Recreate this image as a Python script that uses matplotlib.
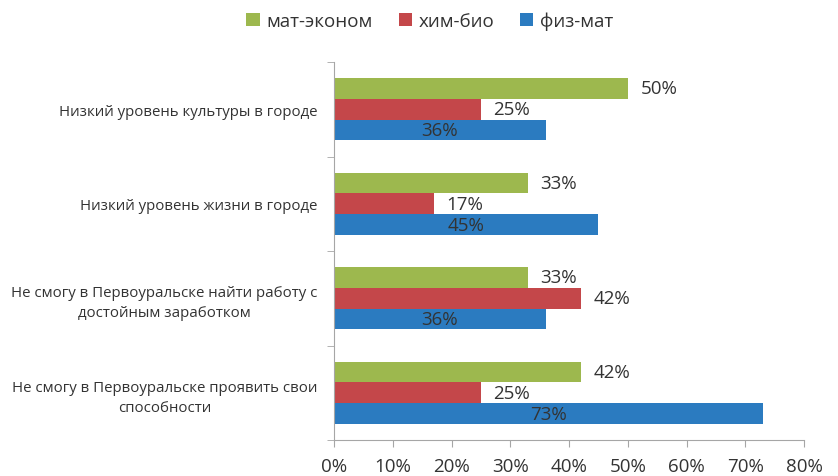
import matplotlib
matplotlib.use("Agg")
import matplotlib.pyplot as plt
from matplotlib.patches import Patch

plt.rcParams['font.family'] = ['Open Sans', 'DejaVu Sans']

categories = [
    "Низкий уровень культуры в городе",
    "Низкий уровень жизни в городе",
    "Не смогу в Первоуральске найти работу с\nдостойным заработком",
    "Не смогу в Первоуральске проявить свои\nспособности",
]
series_names = ["мат-эконом", "хим-био", "физ-мат"]
mat_econom = [50, 33, 33, 42]
him_bio = [25, 17, 42, 25]
fiz_mat = [36, 45, 36, 73]
x_ticks = [0, 10, 20, 30, 40, 50, 60, 70, 80]

colors = ["#9DB84E", "#C4474A", "#2B7BC0"]
text_color = "#333333"
spine_color = "#A6A6A6"

fig = plt.figure(figsize=(8.38, 4.77), dpi=100)
ax = fig.add_axes([334 / 838, 36 / 477, 470 / 838, 378 / 477])

bh = 0.22
offsets = [-bh, 0, bh]
series = [mat_econom, him_bio, fiz_mat]
for s, (vals, off, col) in enumerate(zip(series, offsets, colors)):
    ys = [i + off for i in range(len(categories))]
    ax.barh(ys, vals, height=bh, color=col, edgecolor='none')
    for y, v in zip(ys, vals):
        if s < 2:
            ax.annotate(f"{v}%", (v, y), xytext=(9, 0), textcoords='offset points',
                        ha='left', va='center', fontsize=13.5, color=text_color)
        else:
            ax.text(v / 2, y, f"{v}%", ha='center', va='center', fontsize=13.5,
                    color=text_color)

ax.set_ylim(len(categories) - 0.5, -0.5)
ax.set_xlim(0, 80)
ax.set_xticks(x_ticks)
ax.set_xticklabels([f"{t}%" for t in x_ticks], fontsize=13.5, color=text_color)

ax.set_yticks(range(len(categories)))
ax.set_yticklabels(categories, fontsize=10.8, color=text_color,
                   multialignment='center', linespacing=1.45)
ax.set_yticks([i - 0.5 for i in range(len(categories) + 1)], minor=True)
ax.tick_params(axis='y', which='major', length=0, pad=12)
ax.tick_params(axis='y', which='minor', length=5, color=spine_color, direction='out')
ax.tick_params(axis='x', length=5, color=spine_color, direction='out', pad=7)

for side in ['top', 'right']:
    ax.spines[side].set_visible(False)
for side in ['left', 'bottom']:
    ax.spines[side].set_color(spine_color)

handles = [Patch(facecolor=c, edgecolor='none') for c in colors]
leg = fig.legend(handles, series_names, loc='center', bbox_to_anchor=(0.513, 0.955),
                 ncol=3, frameon=False, fontsize=13.5, handlelength=0.7, handleheight=0.7,
                 handletextpad=0.35, columnspacing=1.4)
for t in leg.get_texts():
    t.set_color(text_color)

fig.savefig("out.png", dpi=100)
